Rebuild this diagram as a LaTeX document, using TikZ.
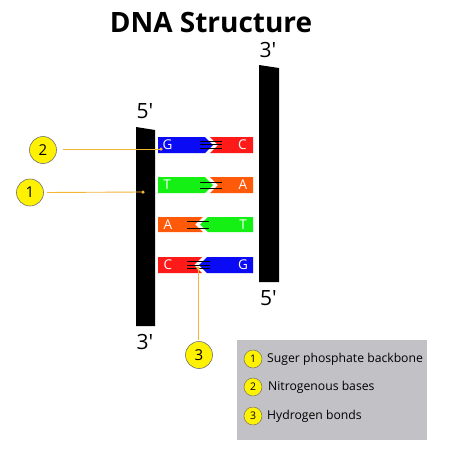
\documentclass[tikz,border=0pt]{standalone}
\usepackage{fontspec}
\setmainfont{Open Sans}
\definecolor{bblue}{HTML}{0A0AF5}
\definecolor{bred}{HTML}{FF1A1A}
\definecolor{bgreen}{HTML}{14F014}
\definecolor{borange}{HTML}{FF5A0A}
\definecolor{callline}{HTML}{F2B538}
\definecolor{legendgray}{HTML}{C2C2C6}
\definecolor{circyellow}{HTML}{FFF200}
\newcommand{\prm}{\textquotesingle}
\begin{document}
\begin{tikzpicture}[x=1pt,y=-1pt,
  callout/.style={circle,draw=black!55,line width=0.6pt,fill=circyellow,minimum size=27pt,inner sep=0pt,font=\fontsize{15}{15}\selectfont},
  legcirc/.style={circle,draw=black!55,line width=0.5pt,fill=circyellow,minimum size=18pt,inner sep=0pt,font=\fontsize{10.5}{10.5}\selectfont},
  legtext/.style={anchor=west,inner sep=0pt,font=\fontsize{12.2}{12.2}\selectfont},
  endlabel/.style={inner sep=0pt,font=\fontsize{21}{21}\selectfont},
  baselet/.style={inner sep=0pt,text=white,font=\fontsize{13.5}{13.5}\selectfont},
  hbond/.style={black,line width=0.5pt},
  leader/.style={callline,line width=0.9pt},
  dotmark/.style={circle,fill=callline,inner sep=0pt,minimum size=3.5pt}]
\useasboundingbox (0,0) rectangle (450,450);
\fill[white] (0,0) rectangle (450,450);
% title
\node[font=\bfseries\fontsize{28}{28}\selectfont,inner sep=0pt] (title) at (211,22) {DNA Structure};
% backbones
\fill[black] (136,127) -- (155,130) -- (155,326) -- (136,326) -- cycle;
\fill[black] (259,65) -- (279,68) -- (279,282) -- (259,282) -- cycle;
\node[endlabel] (l5) at (145,111) {5\prm};
\node[endlabel] (l3) at (145,342) {3\prm};
\node[endlabel] (r3) at (268,50) {3\prm};
\node[endlabel] (r5) at (268.5,298) {5\prm};
% row 1: G-C (pointing right)
\fill[bblue] (158,137) -- (205,137) -- (213,145) -- (205,153) -- (158,153) -- cycle;
\fill[bred] (210,137) -- (253,137) -- (253,153) -- (210,153) -- (218,145) -- cycle;
\foreach \yy in {141,144.5,148} \draw[hbond] (200,\yy) -- (222,\yy);
\node[baselet] (g1) at (167.5,145) {G};
\node[baselet] (c1) at (242.5,145) {C};
% row 2: T-A (pointing right)
\fill[bgreen] (158,177) -- (205,177) -- (213,185) -- (205,193) -- (158,193) -- cycle;
\fill[borange] (210,177) -- (253,177) -- (253,193) -- (210,193) -- (218,185) -- cycle;
\foreach \yy in {182,188} \draw[hbond] (200,\yy) -- (222,\yy);
\node[baselet] (t2) at (167,185) {T};
\node[baselet] (a2) at (243,185) {A};
% row 3: A-T (pointing left)
\fill[borange] (158,217) -- (203,217) -- (195,224.5) -- (203,232) -- (158,232) -- cycle;
\fill[bgreen] (208,217) -- (253,217) -- (253,232) -- (208,232) -- (200,224.5) -- cycle;
\foreach \yy in {221,228} \draw[hbond] (187,\yy) -- (209,\yy);
\node[baselet] (a3) at (168,224.5) {A};
\node[baselet] (t3) at (243,224.5) {T};
% row 4: C-G (pointing left)
\fill[bred] (158,257) -- (202,257) -- (194,265) -- (202,273) -- (158,273) -- cycle;
\fill[bblue] (207,257) -- (253,257) -- (253,273) -- (207,273) -- (199,265) -- cycle;
\foreach \yy in {261.5,265,268.5} \draw[hbond] (187,\yy) -- (210,\yy);
\node[baselet] (c4) at (168,265) {C};
\node[baselet] (g4) at (243,265) {G};
% callouts
\node[callout] (n2) at (43,150) {2};
\node[callout] (n1) at (30,192.5) {1};
\node[callout] (n3) at (199,355) {3};
\node[dotmark] (d2) at (161,149) {};
\node[dotmark] (d1) at (143,192) {};
\node[dotmark] (d3) at (198,268) {};
\draw[leader] (n2.east) ++(6,-1) coordinate (s2) -- (d2.center);
\draw[leader] (n1.east) ++(3,0) coordinate (s1) -- (d1.center);
\draw[leader] (n3.north) ++(-1,-1) coordinate (s3) -- (d3.center);
% legend
\fill[legendgray] (237,340) rectangle (427,440);
\node[legcirc] (k1) at (253,359) {1};
\node[legcirc] (k2) at (253,387) {2};
\node[legcirc] (k3) at (253,416) {3};
\node[legtext] (t1) at (267,359) {Suger phosphate backbone};
\node[legtext] (tt2) at (268,387) {Nitrogenous bases};
\node[legtext] (tt3) at (267,416) {Hydrogen bonds};
\end{tikzpicture}
\end{document}
